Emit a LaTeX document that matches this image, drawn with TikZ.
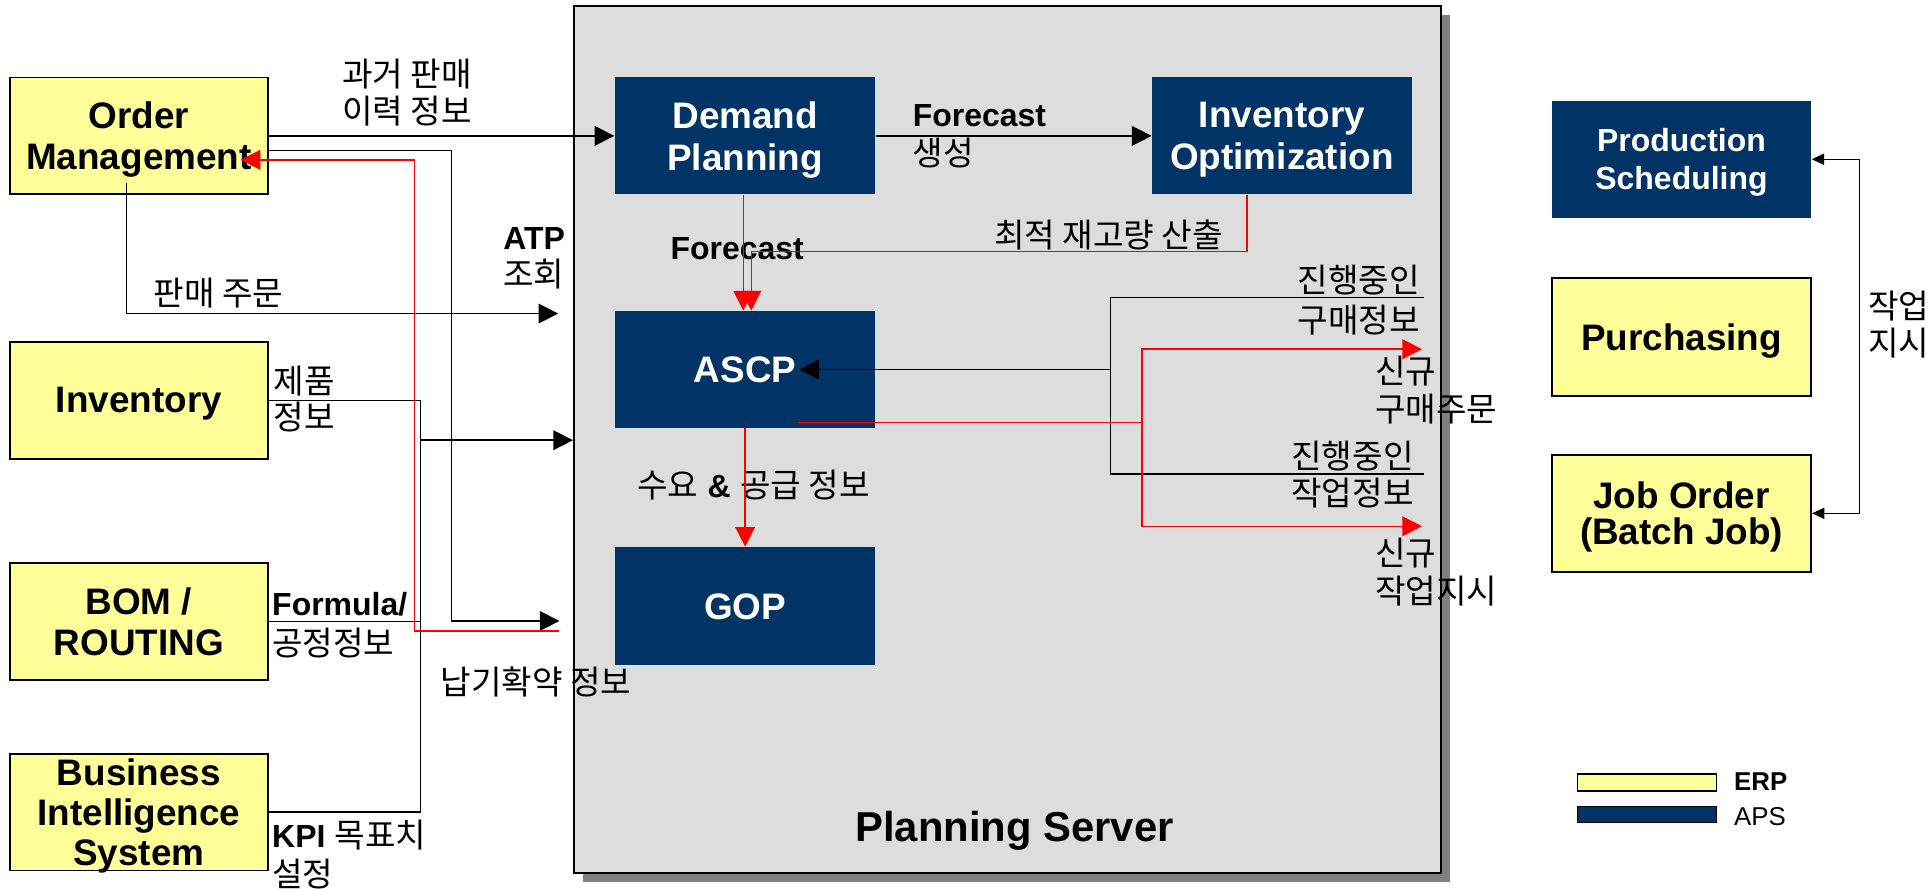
\documentclass[tikz,border=0pt]{standalone}
\usepackage{fontspec}
\setmainfont{Liberation Sans}
\newfontfamily\korfont{Noto Sans CJK KR}
\usetikzlibrary{arrows.meta,calc}
\definecolor{erpyellow}{RGB}{255,255,153}
\definecolor{apsnavy}{RGB}{0,51,102}
\definecolor{servergray}{RGB}{221,221,221}
\definecolor{shadowgray}{RGB}{128,128,128}
\newcommand{\ko}[1]{{\korfont #1}}
\newcommand{\lb}[1]{{\bfseries\fontsize{13}{15}\selectfont #1}}
\begin{document}
\begin{tikzpicture}[x=0.5pt,y=-0.5pt,
  erp/.style={draw=black, line width=0.7pt, fill=erpyellow, minimum width=105pt, minimum height=47.5pt, inner sep=0pt, align=center, text depth=0pt, font=\bfseries\fontsize{15}{16.5}\selectfont},
  aps/.style={fill=apsnavy, text=white, minimum width=106pt, minimum height=47.5pt, inner sep=0pt, align=center, text depth=0pt, font=\bfseries\fontsize{15}{17}\selectfont},
  ln/.style={line width=0.6pt, draw=black},
  arr/.style={ln, -{Triangle[length=8pt,width=8pt]}},
  rln/.style={line width=0.6pt, draw=red},
  rarr/.style={rln, -{Triangle[length=8pt,width=8pt]}},
  sarr/.style={line width=0.5pt, draw=black, {Triangle[length=5pt,width=4.5pt]}-{Triangle[length=5pt,width=4.5pt]}},
  lbl/.style={inner sep=0pt, font=\fontsize{13.5}{15}\selectfont},
]
\useasboundingbox (0,0) rectangle (1568,723);

% planning server with shadow
\fill[shadowgray] (474,12) rectangle (1179,717);
\node[draw=black, line width=1pt, fill=servergray, minimum width=352.5pt, minimum height=352.5pt, inner sep=0pt] (server) at (819.5,357.5) {};
\node[font=\bfseries\fontsize{17}{19}\selectfont, inner sep=0pt, text depth=0pt] (pslabel) at (825,672) {Planning Server};

% ERP boxes left
\node[erp] (om) at (113,110.5) {Order\\Management};
\node[erp] (inv) at (113,325.5) {Inventory};
\node[erp] (bom) at (113,505.5) {BOM /\\ROUTING};
\node[erp, font=\bfseries\fontsize{15}{16.25}\selectfont] (bi) at (113,660.5) {Business\\Intelligence\\System};

% APS boxes
\node[aps] (dp) at (606,110.5) {Demand\\Planning};
\node[aps, minimum width=105.5pt] (io) at (1042.5,110.5) {Inventory\\Optimization};
\node[aps] (ascp) at (606,300.5) {ASCP};
\node[aps, minimum height=48pt] (gop) at (606,493) {GOP};

% right column
\node[aps, minimum width=105.5pt, font=\bfseries\fontsize{13}{15.5}\selectfont] (ps) at (1367.5,129.5) {Production\\Scheduling};
\node[erp, minimum width=105.5pt, minimum height=48pt] (pur) at (1367.5,274) {Purchasing};
\node[erp, minimum width=105.5pt, font=\bfseries\fontsize{15}{14.5}\selectfont] (jo) at (1367.5,417.5) {Job Order\\(Batch Job)};

% legend
\node[draw=black, line width=0.7pt, fill=erpyellow, minimum width=56.5pt, minimum height=6.75pt, inner sep=0pt] (erpbar) at (1339.5,636.25) {};
\node[draw=black, line width=0.7pt, fill=apsnavy, minimum width=56.5pt, minimum height=6.5pt, inner sep=0pt] (apsbar) at (1339.5,662.5) {};
\node[anchor=west, inner sep=0pt, font=\bfseries\fontsize{10.5}{12}\selectfont] (erptxt) at (1410,636) {ERP};
\node[anchor=west, inner sep=0pt, font=\fontsize{10.5}{12}\selectfont] (apstxt) at (1410,664) {APS};

% labels
\node[lbl, anchor=west, align=left] (l1) at (278,75.5) {\ko{과거 판매}\\\ko{이력 정보}};
\node[lbl, anchor=west, align=left, font=\fontsize{13.5}{16}\selectfont] (l2) at (742,111) {\lb{Forecast}\\\ko{생성}};
\node[lbl, anchor=east] (l3) at (995,191) {\ko{최적 재고량 산출}};
\node[lbl, anchor=west] (l4) at (545,202) {\lb{Forecast}};
\node[lbl, anchor=west, align=left] (l5) at (409,210) {\lb{ATP}\\\ko{조회}};
\node[lbl, anchor=west] (l6) at (124.5,238) {\ko{판매 주문}};
\node[lbl, anchor=west, align=left] (l7) at (222,324.5) {\ko{제품}\\\ko{정보}};
\node[lbl, anchor=west, align=left, font=\fontsize{13.5}{16.5}\selectfont] (l8) at (221,508.5) {\lb{Formula/}\\\ko{공정정보}};
\node[lbl, anchor=west] (l9) at (358,555) {\ko{납기확약 정보}};
\node[lbl, anchor=west, align=left, font=\fontsize{13.5}{16}\selectfont] (l10) at (221,695) {\lb{KPI} \ko{목표치}\\\ko{설정}};
\node[lbl, anchor=west] (l11) at (518,394.5) {\ko{수요} \lb{\&} \ko{공급 정보}};
\node[lbl, anchor=east, align=right, font=\fontsize{13.5}{16}\selectfont] (l12) at (1155,244) {\ko{진행중인}\\\ko{구매정보}};
\node[lbl, anchor=west, align=left, font=\fontsize{13.5}{15.5}\selectfont] (l13) at (1118,317) {\ko{신규}\\\ko{구매주문}};
\node[lbl, anchor=east, align=right, font=\fontsize{13.5}{15.25}\selectfont] (l14) at (1150,386) {\ko{진행중인}\\\ko{작업정보}};
\node[lbl, anchor=west, align=left, font=\fontsize{13.5}{15.5}\selectfont] (l15) at (1118,465.5) {\ko{신규}\\\ko{작업지시}};
\node[lbl, anchor=west, align=left] (l16) at (1519,264) {\ko{작업}\\\ko{지시}};

% free-end coordinates
\coordinate (atpEnd) at (454,255);
\coordinate (gopIn) at (455,505);
\coordinate (ndEnd) at (455,513);
\coordinate (bus) at (342,0);
\coordinate (busOut) at (342,358);
\coordinate (pinfo) at (1158,242);
\coordinate (winfo) at (1158,385.5);
\coordinate (newpo) at (1156.5,284);
\coordinate (newwo) at (1156.5,428);

% black connectors
\draw[arr] (om) -- (dp);
\draw[arr] ($(om.east)+(0,12)$) -- (367,122.5) -- (367,505) -- (gopIn);
\draw[arr] ($(om.south)+(-10.3,-9.5)$) |- (atpEnd);
\draw[ln] (inv.east) -| (bus |- bi.east) -- (bi.east);
\draw[ln] (bom.east) -- (bom.east -| bus);
\draw[arr] (busOut) -- (busOut -| server.west);
\draw[arr] (dp) -- (io);
\draw[ln] (pinfo) -- (903,242) -- (903,385.5) -- (winfo);
\draw[arr] (903,300.5) -- ($(ascp.center)+(44,0)$);
\draw[sarr] (ps.east) -- ++(39,0) |- (jo.east);

% red connectors
\draw[rarr] (ndEnd) -- (337,513) -- (337,130) -- ($(om.east)+(-23,19.5)$);
\draw[rarr] ($(dp.south)+(-1.5,0)$) -- ($(ascp.north)+(-1.5,0)$);
\draw[rarr] ($(io.south)+(-28.5,0)$) |- ($(ascp.north)+(5,-48)$) -- ($(ascp.north)+(5,0)$);
\draw[rarr] (ascp) -- (gop);
\draw[rarr] ($(ascp.center)+(43,43)$) -| (928.6,284) -- (newpo);
\draw[rarr] (928.6,343.5) |- (newwo);
\end{tikzpicture}
\end{document}
